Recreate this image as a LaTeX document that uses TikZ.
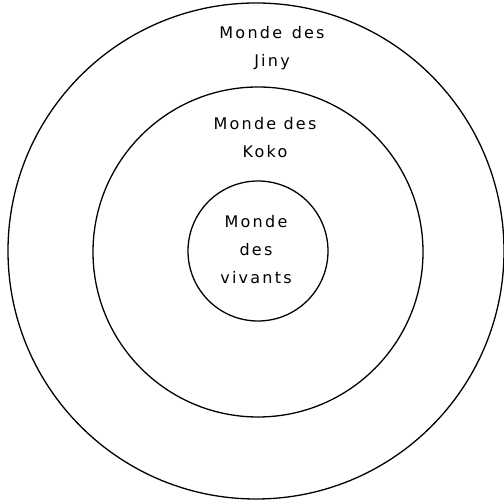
\documentclass[tikz,border=0pt]{standalone}
\usepackage{fontspec}
\newfontfamily\mondefont[LetterSpace=14]{DejaVu Sans}
\usepackage{tikz}

\tikzset{
  ring/.style={draw, circle, line width=1.3pt, inner sep=0pt},
  monde/.style={align=center, font=\mondefont\fontsize{16}{28}\selectfont}
}

\begin{document}
\begin{tikzpicture}[x=1pt,y=1pt]
            \useasboundingbox (0,0) rectangle (504,500);
            \node[ring, minimum size=496pt] (jiny) at (256,249) {};
            \node[ring, minimum size=330pt] (koko) at (258,248) {};
            \node[ring, minimum size=140pt] (vivants) at (258,249) {};

            \node[monde] (tjiny) at (272,452) {Monde\hspace{0.6em}des\\Jiny};
            \node[monde] (tkoko) at (265,362) {Monde des\\Koko};
            \node[monde] (tvivants) at (256,250) {Monde\\des\\vivants};
        \end{tikzpicture}
\end{document}
